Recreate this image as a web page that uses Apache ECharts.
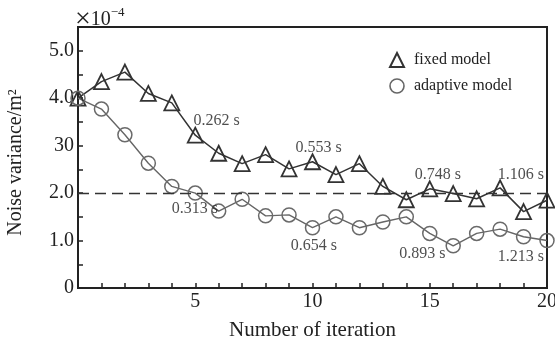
<!DOCTYPE html>
<html>
<head>
<meta charset="utf-8">
<script src="https://cdn.jsdelivr.net/npm/echarts@6/dist/echarts.min.js"></script>
<style>
  html, body { margin: 0; padding: 0; background: #fff; }
  #chart { width: 555px; height: 347px; }
</style>
</head>
<body>
<div id="chart"></div>
<script>
const iterations = [0, 1, 2, 3, 4, 5, 6, 7, 8, 9, 10, 11, 12, 13, 14, 15, 16, 17, 18, 19, 20];
const fixedModel = [4.0, 4.35, 4.55, 4.1, 3.9, 3.22, 2.84, 2.62, 2.81, 2.51, 2.66, 2.39, 2.62, 2.14, 1.86, 2.09, 1.99, 1.88, 2.11, 1.61, 1.85];
const adaptiveModel = [4.0, 3.77, 3.23, 2.63, 2.14, 2.0, 1.62, 1.87, 1.52, 1.54, 1.27, 1.5, 1.27, 1.39, 1.5, 1.15, 0.89, 1.15, 1.24, 1.08, 1.0];
const thresholdValue = 2.0;
const yLabels = { 0: '0', 1: '1.0', 2: '2.0', 3: '30', 4: '4.0', 5: '5.0' };
const xLabels = { 5: '5', 10: '10', 15: '15', 20: '20' };
// time notes: [x, y, text]
const timeNotes = [
  [4.93, 3.52, '0.262 s'],
  [9.28, 2.95, '0.553 s'],
  [14.36, 2.39, '0.748 s'],
  [17.9, 2.39, '1.106 s'],
  [4.0, 1.66, '0.313 s'],
  [9.07, 0.88, '0.654 s'],
  [13.7, 0.72, '0.893 s'],
  [17.9, 0.65, '1.213 s']
];

const serif = '"Liberation Serif", "DejaVu Serif", serif';
const chart = echarts.init(document.getElementById('chart'));

const option = {
  animation: false,
  textStyle: { fontFamily: serif },
  grid: {
    left: 78,
    right: 8,
    top: 27,
    bottom: 59,
    outerBoundsMode: 'none',
    containLabel: false,
    show: true,
    borderColor: '#222',
    borderWidth: 2,
    backgroundColor: 'transparent'
  },
  graphic: [
    {
      type: 'text',
      left: 75,
      top: 6,
      style: {
        text: '{x|×}{n|10}{sup|−4}',
        rich: {
          x: { fontSize: 28, fontFamily: serif, fill: '#222', color: '#222' },
          n: { fontSize: 20, fontFamily: serif, fill: '#222', color: '#222' },
          sup: { fontSize: 13, fontFamily: serif, fill: '#222', color: '#222', verticalAlign: 'top', padding: [0, 0, 10, 0] }
        }
      }
    }
  ],
  legend: {
    orient: 'vertical',
    left: 384,
    top: 47,
    itemWidth: 14,
    itemHeight: 14,
    itemGap: 10,
    textStyle: { fontFamily: serif, fontSize: 16, color: '#222', padding: [0, 0, 0, 5] },
    data: [
      { name: 'fixed model', icon: 'triangle', itemStyle: { color: 'transparent', borderColor: '#333', borderWidth: 2 } },
      { name: 'adaptive model', icon: 'circle', itemStyle: { color: 'transparent', borderColor: '#666', borderWidth: 1.6 } }
    ]
  },
  xAxis: {
    type: 'value',
    min: 0,
    max: 20,
    interval: 1,
    name: 'Number of iteration',
    nameLocation: 'middle',
    nameGap: 32,
    nameTextStyle: { fontFamily: serif, fontSize: 21, color: '#222' },
    axisLine: { lineStyle: { color: '#222', width: 2 } },
    axisTick: { inside: true, length: 5, lineStyle: { color: '#222', width: 1.5 } },
    axisLabel: {
      fontFamily: serif,
      fontSize: 20,
      color: '#222',
      margin: 4,
      formatter: v => xLabels[v] || ''
    },
    splitLine: { show: false }
  },
  yAxis: {
    type: 'value',
    min: 0,
    max: 5.5,
    interval: 0.5,
    name: 'Noise variance/m²',
    nameLocation: 'middle',
    nameGap: 52,
    nameRotate: 90,
    nameTextStyle: { fontFamily: serif, fontSize: 20, color: '#222', padding: [0, 10, 0, 0] },
    axisLine: { lineStyle: { color: '#222', width: 2 } },
    axisTick: { inside: true, length: 5, lineStyle: { color: '#222', width: 1.5 } },
    axisLabel: {
      fontFamily: serif,
      fontSize: 20,
      color: '#222',
      margin: 4,
      formatter: v => (yLabels[v] !== undefined ? yLabels[v] : '')
    },
    splitLine: { show: false }
  },
  series: [
    {
      name: 'fixed model',
      type: 'line',
      data: iterations.map((x, i) => [x, fixedModel[i]]),
      symbol: 'triangle',
      symbolSize: 15,
      showAllSymbol: true,
      lineStyle: { color: '#333', width: 1.5 },
      itemStyle: { color: 'transparent', borderColor: '#333', borderWidth: 1.8 },
      z: 3,
      markLine: {
        silent: true,
        symbol: 'none',
        label: { show: false },
        lineStyle: { color: '#333', type: [11, 6], width: 1.3 },
        data: [{ yAxis: thresholdValue }]
      }
    },
    {
      name: 'adaptive model',
      type: 'line',
      data: iterations.map((x, i) => [x, adaptiveModel[i]]),
      symbol: 'circle',
      symbolSize: 14,
      showAllSymbol: true,
      lineStyle: { color: '#666', width: 1.4 },
      itemStyle: { color: 'transparent', borderColor: '#6a6a6a', borderWidth: 1.5 },
      z: 3
    },
    {
      name: 'notes',
      type: 'scatter',
      data: timeNotes.map(n => ({ value: [n[0], n[1]], label: { formatter: n[2] } })),
      symbolSize: 0,
      silent: true,
      label: {
        show: true,
        position: 'right',
        distance: 0,
        fontFamily: serif,
        fontSize: 16,
        color: '#222'
      },
      z: 4
    }
  ]
};

chart.setOption(option);
</script>
</body>
</html>
